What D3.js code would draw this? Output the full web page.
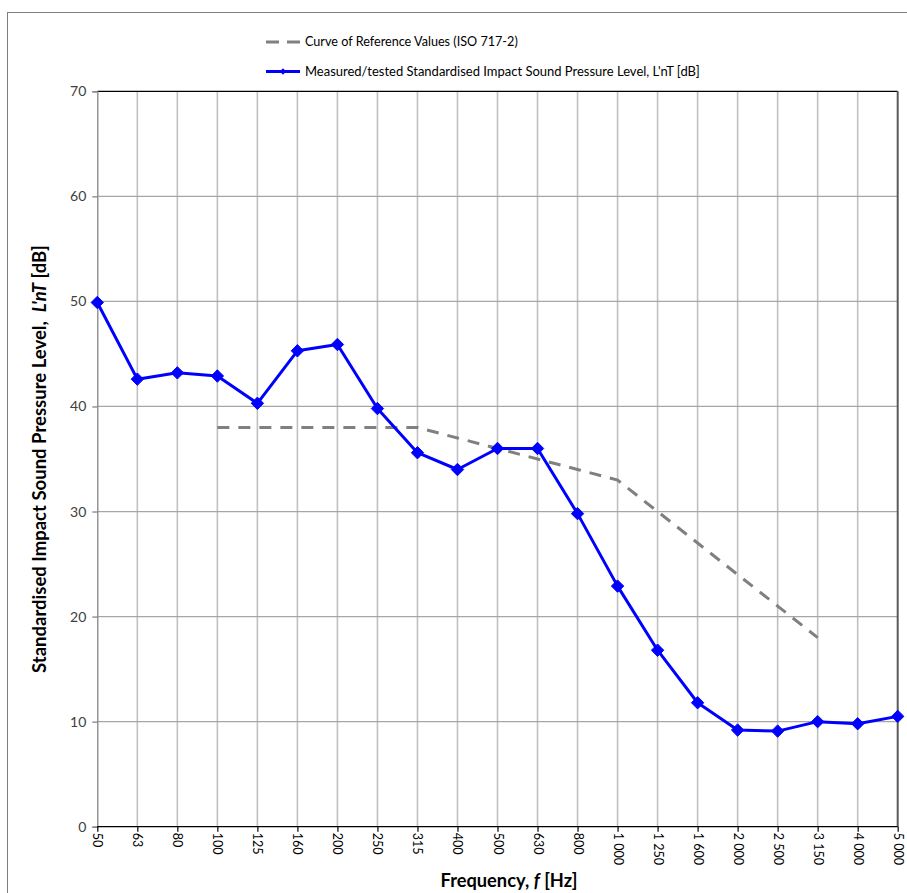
<!DOCTYPE html>
<html>
<head>
<meta charset="utf-8">
<script src="https://cdn.jsdelivr.net/npm/d3@7"></script>
<style>
  html, body { margin: 0; padding: 0; background: #fff; }
  svg { display: block; font-family: Lato, "Open Sans", sans-serif; }
</style>
</head>
<body>
<svg id="chart" width="907" height="893"></svg>
<script>
// ---- data ----
const categories = ["50","63","80","100","125","160","200","250","315","400","500","630","800","1 000","1 250","1 600","2 000","2 500","3 150","4 000","5 000"];
const measuredValues = [49.9, 42.6, 43.2, 42.9, 40.3, 45.3, 45.9, 39.8, 35.6, 34.0, 36.0, 36.0, 29.8, 22.9, 16.8, 11.8, 9.2, 9.1, 10.0, 9.8, 10.5];
const referenceCategories = ["100","125","160","200","250","315","400","500","630","800","1 000","1 250","1 600","2 000","2 500","3 150"];
const referenceValues = [38, 38, 38, 38, 38, 38, 37, 36, 35, 34, 33, 30, 27, 24, 21, 18];
const yTicks = [0, 10, 20, 30, 40, 50, 60, 70];
const legendLabels = ["Curve of Reference Values (ISO 717-2)", "Measured/tested Standardised Impact Sound Pressure Level, L'nT [dB]"];

(function () {
// ---- layout ----
const svg = d3.select("#chart");
const pLeft = 97.3, pRight = 897.7, pTop = 91.3, pBottom = 826.7;

const x = d3.scalePoint().domain(categories).range([pLeft, pRight]);
const y = d3.scaleLinear().domain([0, 70]).range([pBottom, pTop]);

// outer chart border
svg.append("rect").attr("x", 7.5).attr("y", 12.5).attr("width", 940).attr("height", 920)
  .attr("fill", "none").attr("stroke", "#7f7f7f").attr("stroke-width", 1);

// vertical gridlines
svg.append("g").selectAll("line").data(categories.slice(1, -1)).join("line")
  .attr("x1", d => x(d)).attr("x2", d => x(d))
  .attr("y1", pTop).attr("y2", pBottom)
  .attr("stroke", "#c0c0c0").attr("stroke-width", 1.6);

// horizontal gridlines
svg.append("g").selectAll("line").data(yTicks.filter(t => t > 0 && t < 70)).join("line")
  .attr("x1", pLeft).attr("x2", pRight)
  .attr("y1", d => y(d)).attr("y2", d => y(d))
  .attr("stroke", "#a6a6a6").attr("stroke-width", 1.3);

// plot border top & right
svg.append("line").attr("x1", pLeft).attr("x2", pRight).attr("y1", pTop).attr("y2", pTop)
  .attr("stroke", "#000").attr("stroke-width", 1.2);
svg.append("line").attr("x1", pRight).attr("x2", pRight).attr("y1", pTop).attr("y2", pBottom)
  .attr("stroke", "#5a5a5a").attr("stroke-width", 2);

// y axis
const yAxis = svg.append("g").attr("transform", `translate(${pLeft},0)`)
  .call(d3.axisLeft(y).tickValues(yTicks).tickSize(5).tickPadding(6));
yAxis.select(".domain").attr("stroke", "#868686").attr("stroke-width", 1.3);
yAxis.selectAll(".tick line").attr("stroke", "#868686").attr("stroke-width", 1.3);
yAxis.selectAll(".tick text").attr("font-family", "Lato, sans-serif").attr("font-size", 14).attr("fill", "#404040");

// x axis
const xAxis = svg.append("g").attr("transform", `translate(0,${pBottom})`)
  .call(d3.axisBottom(x).tickSize(5).tickPadding(0));
xAxis.select(".domain").attr("stroke", "#000").attr("stroke-width", 1.3)
  .attr("d", `M${pLeft},0H${pRight}`);
xAxis.selectAll(".tick line").attr("stroke", "#000").attr("stroke-width", 1.2);
xAxis.selectAll(".tick text")
  .attr("font-family", "Lato, sans-serif").attr("font-size", 12.5).attr("fill", "#000")
  .attr("text-anchor", "start")
  .attr("transform", "rotate(90)")
  .attr("x", 6).attr("y", 0).attr("dy", "0.36em");

// reference curve (dashed)
const line = d3.line().x(d => x(d[0])).y(d => y(d[1]));
svg.append("path")
  .datum(referenceCategories.map((c, i) => [c, referenceValues[i]]))
  .attr("d", line).attr("fill", "none")
  .attr("stroke", "#808080").attr("stroke-width", 3)
  .attr("stroke-dasharray", "12,9");

// measured curve
const measured = categories.map((c, i) => [c, measuredValues[i]]);
svg.append("path").datum(measured).attr("d", line).attr("fill", "none")
  .attr("stroke", "#0000ff").attr("stroke-width", 3).attr("stroke-linejoin", "round");

const diamond = d3.symbol().type(d3.symbolDiamond2).size(98);
svg.append("g").selectAll("path").data(measured).join("path")
  .attr("transform", d => `translate(${x(d[0])},${y(d[1])})`)
  .attr("d", diamond).attr("fill", "#0000ff").attr("stroke", "#0000ff").attr("stroke-width", 1);

// helper to fit text to a target length by adjusting font size
function fit(sel, target) {
  const node = sel.node();
  const base = parseFloat(sel.attr("font-size"));
  const len = node.getComputedTextLength();
  if (len > 0) sel.attr("font-size", (base * target / len).toFixed(2));
}

// legend
const lg = svg.append("g");
lg.append("line").attr("x1", 266).attr("x2", 300).attr("y1", 42).attr("y2", 42)
  .attr("stroke", "#808080").attr("stroke-width", 3).attr("stroke-dasharray", "13,8");
const l1 = lg.append("text").attr("x", 305).attr("y", 42).attr("dy", "0.35em")
  .attr("font-size", 11).attr("fill", "#000").text(legendLabels[0]);
fit(l1, 213);
lg.append("line").attr("x1", 266).attr("x2", 300).attr("y1", 71.5).attr("y2", 71.5)
  .attr("stroke", "#0000ff").attr("stroke-width", 3);
lg.append("path").attr("transform", "translate(283,71.5)")
  .attr("d", d3.symbol().type(d3.symbolDiamond2).size(26)).attr("fill", "#0000ff");
const l2 = lg.append("text").attr("x", 305).attr("y", 71.5).attr("dy", "0.35em")
  .attr("font-size", 11).attr("fill", "#000").text(legendLabels[1]);
fit(l2, 395);

// y-axis title
const yt = svg.append("text")
  .attr("transform", "translate(40,459) rotate(-90)")
  .attr("text-anchor", "middle").attr("dy", "0.35em")
  .attr("font-size", 15).attr("font-weight", "bold").attr("fill", "#000");
yt.append("tspan").text("Standardised Impact Sound Pressure Level,\u00a0\u00a0");
yt.append("tspan").attr("font-style", "italic").text("L'nT");
yt.append("tspan").text(" [dB]");
fit(yt, 428);

// x-axis title
const xt = svg.append("text")
  .attr("x", 509).attr("y", 881).attr("text-anchor", "middle").attr("dy", "0.35em")
  .attr("font-size", 15).attr("font-weight", "bold").attr("fill", "#000");
xt.append("tspan").text("Frequency, ");
xt.append("tspan").attr("font-style", "italic").text("f");
xt.append("tspan").text(" [Hz]");
fit(xt, 137);
})();
</script>
</body>
</html>
